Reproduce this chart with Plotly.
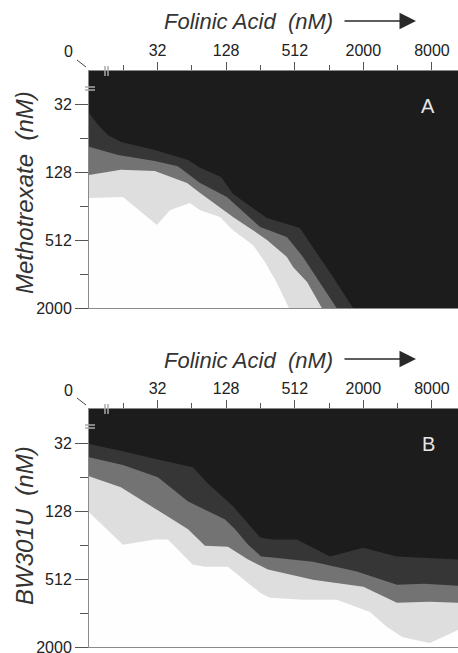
import plotly.graph_objects as go

W, H = 458, 653

# ---- Data (axes in doubling steps: log2 of concentration, nM) ----
# Tick labels
x_tick_pos = [5, 7, 9, 11, 13]
x_tick_txt = ["32", "128", "512", "2000", "8000"]
x_minor_pos = [4, 6, 8, 10, 12]
y_tick_pos = [5, 7, 9, 11]
y_tick_txt = ["32", "128", "512", "2000"]
y_minor_pos = [6, 8, 10]

X_MIN, X_MAX = 3.0, 13.76
Y_MIN, Y_MAX = 4.0, 11.0

# Panel A (Methotrexate) – contour boundaries (folinic acid log2, MTX log2)
A_b1_x = [3.00, 3.26, 3.55, 3.93, 4.92, 5.89, 6.24, 6.85, 7.20, 8.19, 9.15, 9.53, 10.11, 10.70]
A_b1_y = [5.24, 5.59, 5.89, 6.10, 6.33, 6.63, 6.86, 7.13, 7.63, 8.34, 8.64, 9.20, 10.08, 11.00]
A_b2_x = [3.00, 3.85, 4.92, 5.59, 6.24, 7.02, 7.99, 8.77, 9.24, 9.73, 10.22]
A_b2_y = [6.24, 6.48, 6.66, 6.81, 7.31, 7.72, 8.61, 8.90, 9.49, 10.26, 11.00]
A_b3_x = [3.00, 3.93, 4.92, 5.22, 5.86, 6.24, 6.82, 7.20, 7.78, 8.19, 8.77, 8.95, 9.36, 9.79]
A_b3_y = [7.07, 6.92, 6.95, 7.07, 7.31, 7.60, 8.02, 8.31, 8.70, 8.99, 9.49, 9.79, 10.23, 11.00]
A_b4_x = [3.00, 3.99, 4.98, 5.36, 5.94, 6.24, 6.82, 7.20, 7.78, 8.13, 8.48, 8.83]
A_b4_y = [7.75, 7.72, 8.55, 8.11, 7.90, 8.11, 8.31, 8.70, 9.14, 9.64, 10.26, 11.00]

# Panel B (BW301U)
B_b1_x = [3.00, 3.99, 4.98, 6.03, 6.44, 7.20, 7.99, 8.36, 9.06, 10.03, 11.00, 11.98, 13.76]
B_b1_y = [5.03, 5.24, 5.48, 5.71, 6.16, 6.86, 7.78, 7.84, 7.84, 8.34, 8.08, 8.34, 8.43]
B_b2_x = [3.00, 3.99, 5.01, 5.89, 6.97, 7.26, 7.64, 8.02, 8.36, 9.53, 10.81, 11.98, 12.77, 13.76]
B_b2_y = [5.42, 5.65, 6.01, 6.72, 7.25, 7.54, 7.99, 8.34, 8.37, 8.49, 8.78, 9.17, 9.14, 9.20]
B_b3_x = [3.00, 3.93, 5.10, 5.89, 6.38, 7.05, 7.64, 8.22, 9.53, 11.00, 11.98, 12.94, 13.76]
B_b3_y = [5.98, 6.30, 7.04, 7.54, 8.02, 8.05, 8.43, 8.72, 9.02, 9.23, 9.70, 9.67, 9.70]
B_b4_x = [3.00, 3.99, 4.92, 5.30, 6.03, 6.38, 7.05, 8.02, 8.28, 9.24, 10.23, 11.19, 11.69, 12.15, 12.94, 13.76]
B_b4_y = [7.04, 7.99, 7.84, 7.84, 8.58, 8.64, 8.64, 9.43, 9.55, 9.61, 9.61, 9.97, 10.41, 10.71, 10.88, 10.50]

band_colors = ["#363636", "#737373", "#dedede", "#fefefe"]
bg_dark = "#1c1c1c"

fig = go.Figure()


def add_bands(bounds, xa, ya):
    for (bx, by), col in zip(bounds, band_colors):
        px = list(bx) + [bx[-1], bx[0]]
        py = list(by) + [Y_MAX, Y_MAX]
        fig.add_trace(go.Scatter(x=px, y=py, fill="toself", fillcolor=col,
                                 mode="lines", line=dict(width=0, color=col),
                                 hoverinfo="skip", showlegend=False,
                                 xaxis=xa, yaxis=ya))


add_bands([(A_b1_x, A_b1_y), (A_b2_x, A_b2_y), (A_b3_x, A_b3_y), (A_b4_x, A_b4_y)], "x", "y")
add_bands([(B_b1_x, B_b1_y), (B_b2_x, B_b2_y), (B_b3_x, B_b3_y), (B_b4_x, B_b4_y)], "x2", "y2")

FONT = "Liberation Sans, Arial, sans-serif"
tick_font = dict(family=FONT, size=16, color="#222")
axis_col = "#8a8a8a"


def xaxis_cfg(anchor):
    return dict(range=[X_MIN, X_MAX], domain=[89 / W, 1.0], side="top", anchor=anchor,
                tickmode="array", tickvals=x_tick_pos, ticktext=x_tick_txt,
                ticks="outside", ticklen=8, tickwidth=1, tickcolor="#555",
                minor=dict(tickmode="array", tickvals=x_minor_pos, ticks="outside",
                           ticklen=5, tickwidth=1, tickcolor="#555"),
                showline=True, linecolor=axis_col, linewidth=1, mirror=True,
                showgrid=False, zeroline=False, tickfont=tick_font, fixedrange=True,
                automargin=False, ticklabeloverflow="allow")


def yaxis_cfg(anchor, top_px, bot_px):
    return dict(range=[Y_MAX, Y_MIN], domain=[1 - bot_px / H, 1 - top_px / H], anchor=anchor,
                tickmode="array", tickvals=y_tick_pos, ticktext=y_tick_txt,
                ticks="outside", ticklen=13, tickwidth=1, tickcolor="#555",
                minor=dict(tickmode="array", tickvals=y_minor_pos, ticks="outside",
                           ticklen=8, tickwidth=1, tickcolor="#555"),
                showline=True, linecolor=axis_col, linewidth=1,
                showgrid=False, zeroline=False, tickfont=tick_font, fixedrange=True,
                automargin=False, ticklabeloverflow="allow")


def P(x, y):
    return x / W, 1 - y / H


annotations = []
shapes = []


def ann(x, y, text, font, **kw):
    px, py = P(x, y)
    d = dict(x=px, y=py, xref="paper", yref="paper", showarrow=False, text=text,
             font=font, xanchor="center", yanchor="middle")
    d.update(kw)
    annotations.append(d)


def line(xa, ya, xb, yb, color, width):
    a, b = P(xa, ya)
    c, d = P(xb, yb)
    shapes.append(dict(type="line", xref="paper", yref="paper", x0=a, y0=b, x1=c, y1=d,
                       line=dict(color=color, width=width)))


def panel_deco(off, label, ytitle, ytitle_cy):
    # x title + arrow
    ann(248, 22 + off, "<i>Folinic Acid  (nM)</i>", dict(family=FONT, size=22, color="#333"))
    ax_, ay_ = P(416, 21 + off)
    annotations.append(dict(x=ax_, y=ay_, xref="paper", yref="paper", text="",
                            showarrow=True, ax=-73, ay=0, axref="pixel", ayref="pixel",
                            arrowhead=2, arrowsize=2.2, arrowwidth=1.5, arrowcolor="#2a2a2a"))
    # y title
    ann(24, ytitle_cy, "<i>%s</i>" % ytitle, dict(family=FONT, size=24, color="#333"),
        textangle=-90)
    # "0" corner label with slash
    ann(68, 52 + off, "0", tick_font)
    line(77, 60 + off, 86, 67 + off, "#444", 1)
    # break marks
    for dx in (105, 108):
        line(dx, 66 + off, dx, 76 + off, "#aaa", 1.5)
    for dy in (87, 90):
        line(85, dy + off, 95, dy + off, "#aaa", 1.5)
    # panel letter
    ann(428, 106 + off, label, dict(family=FONT, size=20, color="#e6e6e6"))


panel_deco(0, "A", "Methotrexate  (nM)", 193)
panel_deco(338, "B", "BW301U  (nM)", 526)

fig.update_layout(
    width=W, height=H, margin=dict(l=0, r=0, t=0, b=0, pad=0),
    paper_bgcolor="white", plot_bgcolor=bg_dark,
    xaxis=xaxis_cfg("y"), yaxis=yaxis_cfg("x", 71, 308),
    xaxis2=xaxis_cfg("y2"), yaxis2=yaxis_cfg("x2", 409, 647),
    annotations=annotations, shapes=shapes,
    showlegend=False,
)

fig.write_html(
    "out.html",
    config={"displayModeBar": False},
    post_script="document.body.style.margin='0';document.body.style.overflow='hidden';",
)
